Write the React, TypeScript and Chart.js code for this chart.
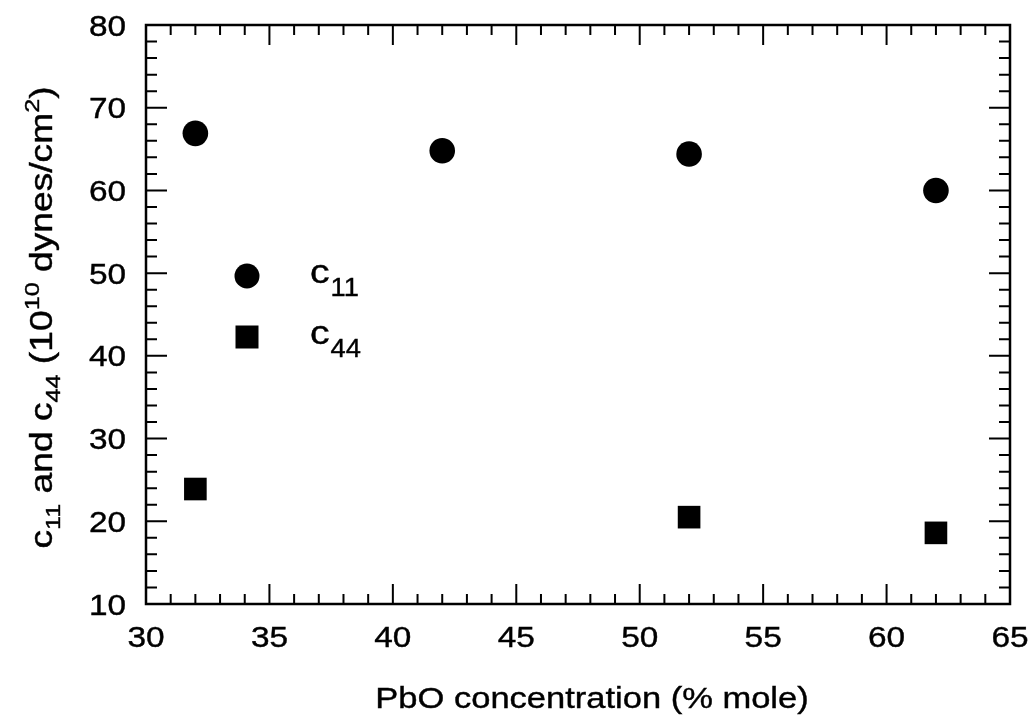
import React, { useEffect, useRef } from "react";
import { Chart, registerables } from "chart.js";

Chart.register(...registerables);

const FONT = "'Liberation Sans', Arial, Helvetica, sans-serif";
const STRETCH = 1.15;
const TEXT_STROKE = 0.4;

const c11X = [32, 42, 52, 62];
const c11Values = [66.9, 64.8, 64.4, 60.0];
const c44X = [32, 52, 62];
const c44Values = [23.9, 20.5, 18.6];

const xMin = 30;
const xMax = 65;
const yMin = 10;
const yMax = 80;

const xTitle = "PbO concentration (% mole)";

type Seg = { t: string; k: "n" | "sub" | "sup" };
const yTitleSegs: Seg[] = [
  { t: "c", k: "n" },
  { t: "11", k: "sub" },
  { t: " and c", k: "n" },
  { t: "44", k: "sub" },
  { t: " (10", k: "n" },
  { t: "10", k: "sup" },
  { t: " dynes/cm", k: "n" },
  { t: "2", k: "sup" },
  { t: ")", k: "n" },
];

const legendItems = [
  { style: "circle", label: "c", sub: "11" },
  { style: "rect", label: "c", sub: "44" },
];

function boldText(ctx: any, text: string, x: number, y: number) {
  ctx.fillText(text, x, y);
  ctx.strokeText(text, x, y);
}

function stretchedText(ctx: any, text: string, x: number, y: number, align: string, sx: number) {
  ctx.save();
  ctx.translate(x, y);
  ctx.scale(sx, 1);
  ctx.textAlign = align;
  ctx.lineWidth = TEXT_STROKE;
  boldText(ctx, text, 0, 0);
  ctx.restore();
}

const framePlugin = {
  id: "frameTicks",
  afterDatasetsDraw(chart: any) {
    const { ctx, chartArea } = chart;
    const xs = chart.scales.x;
    const ys = chart.scales.y;
    const { left, right, top, bottom } = chartArea;
    ctx.save();
    ctx.strokeStyle = "#000";
    ctx.fillStyle = "#000";
    ctx.lineWidth = 2;
    ctx.beginPath();
    for (let v = xMin; v <= xMax; v += 1) {
      const px = xs.getPixelForValue(v);
      const len = v % 5 === 0 ? 20 : 10;
      ctx.moveTo(px, bottom);
      ctx.lineTo(px, bottom - len);
      ctx.moveTo(px, top);
      ctx.lineTo(px, top + len);
    }
    for (let v = yMin; v <= yMax; v += 2) {
      const py = ys.getPixelForValue(v);
      const len = v % 10 === 0 ? 21 : 11;
      ctx.moveTo(left, py);
      ctx.lineTo(left + len, py);
      ctx.moveTo(right, py);
      ctx.lineTo(right - len, py);
    }
    ctx.stroke();
    ctx.lineWidth = 2.5;
    ctx.strokeRect(left, top, right - left, bottom - top);

    // tick labels from the library's scales
    ctx.font = `29px ${FONT}`;
    ctx.textBaseline = "alphabetic";
    xs.ticks.forEach((t: any) => {
      const px = xs.getPixelForValue(t.value);
      stretchedText(ctx, String(t.value), px, bottom + 43, "center", STRETCH);
    });
    ys.ticks.forEach((t: any) => {
      const py = ys.getPixelForValue(t.value);
      stretchedText(ctx, String(t.value), left - 20, py + 10.5, "right", STRETCH);
    });

    // legend
    const lx = left + 101;
    const rows = [251, 312];
    legendItems.forEach((it, i) => {
      const cy = top + rows[i];
      ctx.beginPath();
      if (it.style === "circle") {
        ctx.arc(lx, cy, 12.5, 0, Math.PI * 2);
      } else {
        ctx.rect(lx - 11.5, cy - 11.5, 23, 23);
      }
      ctx.fill();
      const tx = left + 164;
      const base = cy + 7;
      ctx.font = `34px ${FONT}`;
      stretchedText(ctx, it.label, tx, base, "left", STRETCH);
      const w = ctx.measureText(it.label).width * STRETCH;
      ctx.font = `26px ${FONT}`;
      stretchedText(ctx, it.sub, tx + w + 1, base + 13, "left", 1.05);
    });

    // x title
    ctx.font = `30px ${FONT}`;
    stretchedText(ctx, xTitle, (left + right) / 2 + 14, 708, "center", STRETCH);

    // y title
    ctx.save();
    ctx.translate(52, (top + bottom) / 2 + 3);
    ctx.rotate(-Math.PI / 2);
    ctx.scale(1.2, 1);
    ctx.textAlign = "left";
    ctx.lineWidth = TEXT_STROKE;
    const bigF = `31px ${FONT}`;
    const smallF = `21px ${FONT}`;
    let total = 0;
    yTitleSegs.forEach((s) => {
      ctx.font = s.k === "n" ? bigF : smallF;
      total += ctx.measureText(s.t).width;
    });
    let x = -total / 2;
    yTitleSegs.forEach((s) => {
      ctx.font = s.k === "n" ? bigF : smallF;
      const dy = s.k === "sub" ? 8 : s.k === "sup" ? -13 : 0;
      boldText(ctx, s.t, x, dy);
      x += ctx.measureText(s.t).width;
    });
    ctx.restore();
    ctx.restore();
  },
};

export default function App() {
  const ref = useRef<HTMLCanvasElement | null>(null);
  useEffect(() => {
    if (!ref.current) return;
    const chart = new Chart(ref.current, {
      type: "scatter",
      data: {
        datasets: [
          {
            label: "c11",
            data: c11X.map((x, i) => ({ x, y: c11Values[i] })),
            pointStyle: "circle",
            pointRadius: 12.8,
            pointBackgroundColor: "#000",
            pointBorderWidth: 0,
            borderColor: "#000",
          },
          {
            label: "c44",
            data: c44X.map((x, i) => ({ x, y: c44Values[i] })),
            pointStyle: "rect",
            pointRadius: 16,
            pointBackgroundColor: "#000",
            pointBorderWidth: 0,
            borderColor: "#000",
          },
        ],
      },
      options: {
        animation: false,
        responsive: false,
        maintainAspectRatio: false,
        layout: { padding: { top: 25, right: 25, left: 0, bottom: 0 } },
        plugins: {
          legend: { display: false },
          tooltip: { enabled: false },
          title: { display: false },
        },
        scales: {
          x: {
            type: "linear",
            min: xMin,
            max: xMax,
            ticks: { stepSize: 5, display: false },
            grid: { display: false, drawTicks: false },
            border: { display: false },
            afterFit(scale: any) {
              scale.height = 113;
            },
          },
          y: {
            type: "linear",
            min: yMin,
            max: yMax,
            ticks: { stepSize: 10, display: false },
            grid: { display: false, drawTicks: false },
            border: { display: false },
            afterFit(scale: any) {
              scale.width = 146;
            },
          },
        },
      },
      plugins: [framePlugin],
    });
    return () => chart.destroy();
  }, []);
  return (
    <div style={{ position: "fixed", left: 0, top: 0, width: 1035, height: 717, background: "#fff" }}>
      <canvas ref={ref} width={1035} height={717} style={{ width: 1035, height: 717 }} />
    </div>
  );
}
